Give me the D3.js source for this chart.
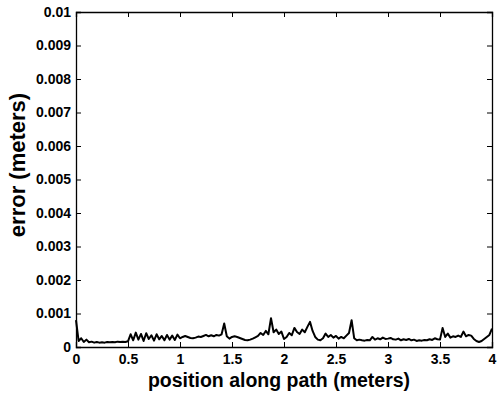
<!DOCTYPE html>
<html>
<head>
<meta charset="utf-8">
<script src="https://cdn.jsdelivr.net/npm/d3@7"></script>
<style>
  body { margin: 0; background: #fff; }
  text { font-family: "Liberation Sans", Arial, sans-serif; fill: #000; }
</style>
</head>
<body>
<svg width="501" height="396"></svg>
<script>
// x ticks (meters) and y ticks (meters)
var xTicks = [0, 0.5, 1, 1.5, 2, 2.5, 3, 3.5, 4];
var yTicks = [0, 0.001, 0.002, 0.003, 0.004, 0.005, 0.006, 0.007, 0.008, 0.009, 0.01];
var yTickLabels = ["0", "0.001", "0.002", "0.003", "0.004", "0.005", "0.006", "0.007", "0.008", "0.009", "0.01"];

// sample positions along path, every 0.025 m
var xStep = 0.025;
// error, in units of 1e-4 m
var errorE4 = [
    8.0, 1.8, 2.6, 1.5, 2.2, 1.4, 1.6, 1.3, 1.5, 1.3, 1.4, 1.3, 1.5, 1.4, 1.5, 1.4, 1.6, 1.5, 1.6, 1.5,
    1.7, 3.8, 2.0, 4.3, 2.2, 3.9, 1.8, 4.1, 2.4, 3.5, 1.9, 3.8, 2.3, 3.3, 2.0, 3.6, 2.2, 3.4, 2.1, 3.7,
    2.6, 3.0, 3.3, 3.0, 2.7, 2.6, 2.8, 3.1, 3.0, 3.3, 3.6, 3.2, 3.5, 3.2, 3.6, 3.4, 3.8, 7.0, 3.2, 2.5,
    3.0, 3.2, 3.0, 2.7, 2.4, 2.1, 2.0, 2.2, 2.5, 2.9, 3.3, 4.2, 3.6, 4.8, 3.8, 8.6, 4.4, 5.2, 3.9, 4.6,
    2.4, 3.0, 4.2, 3.5, 5.7, 4.5, 3.9, 5.2, 4.4, 6.0, 7.5, 4.8, 3.0, 2.2, 2.0, 2.6, 4.0, 3.0, 3.6, 2.8,
    3.3, 2.5, 3.0, 2.6, 3.4, 4.2, 8.0, 2.6, 2.0, 2.2, 2.0, 1.9, 2.1, 2.0, 3.0, 2.2, 2.6, 2.3, 2.8, 2.4,
    2.5, 2.7, 2.3, 2.2, 2.5, 2.0, 2.3, 2.1, 2.4, 2.0, 2.2, 1.8, 2.0, 1.9, 2.1, 2.0, 2.3, 2.1, 2.6, 2.3,
    2.2, 5.7, 3.0, 4.0, 2.8, 3.2, 3.0, 3.4, 3.0, 4.6, 3.2, 3.6, 3.4, 2.4, 1.8, 1.5, 1.8, 2.4, 3.0, 3.6,
    5.5
];

var svg = d3.select("svg"),
    margin = {top: 12, right: 9, bottom: 49, left: 76},
    width = +svg.attr("width") - margin.left - margin.right,
    height = +svg.attr("height") - margin.top - margin.bottom;

var g = svg.append("g")
    .attr("transform", "translate(" + margin.left + "," + margin.top + ")");

var x = d3.scaleLinear().domain([0, 4]).range([0, width]);
var y = d3.scaleLinear().domain([0, 0.01]).range([height, 0]);

// axes with ticks pointing inward, mirrored on top and right (box on)
var tickLen = 5;
var xAxis = d3.axisBottom(x).tickValues(xTicks).tickSize(-tickLen).tickPadding(7)
    .tickFormat(d3.format("~g"));
var yAxis = d3.axisLeft(y).tickValues(yTicks).tickSize(-tickLen).tickPadding(5)
    .tickFormat((d, i) => yTickLabels[i]);

var gx = g.append("g").attr("transform", "translate(0," + height + ")").call(xAxis);
var gy = g.append("g").call(yAxis);
var gxTop = g.append("g").call(d3.axisTop(x).tickValues(xTicks).tickSize(-tickLen).tickFormat(""));
var gyRight = g.append("g").attr("transform", "translate(" + width + ",0)")
    .call(d3.axisRight(y).tickValues(yTicks).tickSize(-tickLen).tickFormat(""));

[gx, gy, gxTop, gyRight].forEach(a => {
    a.select(".domain").attr("stroke", "#000").attr("stroke-width", 1.3);
    a.selectAll(".tick line").attr("stroke", "#000").attr("stroke-width", 1);
    a.selectAll("text").style("font-size", "14px").style("font-weight", "bold");
});

// data line
var line = d3.line()
    .x((d, i) => x(i * xStep))
    .y(d => y(d * 1e-4));

g.append("path")
    .datum(errorE4)
    .attr("fill", "none")
    .attr("stroke", "#000")
    .attr("stroke-width", 2)
    .attr("stroke-linejoin", "round")
    .attr("d", line);

// axis labels
svg.append("text")
    .attr("x", 279)
    .attr("y", 387)
    .attr("text-anchor", "middle")
    .style("font-size", "19.5px")
    .style("font-weight", "bold")
    .text("position along path (meters)");

svg.append("text")
    .attr("transform", "translate(25,165) rotate(-90)")
    .attr("text-anchor", "middle")
    .style("font-size", "22px")
    .style("font-weight", "bold")
    .text("error (meters)");
</script>
</body>
</html>
